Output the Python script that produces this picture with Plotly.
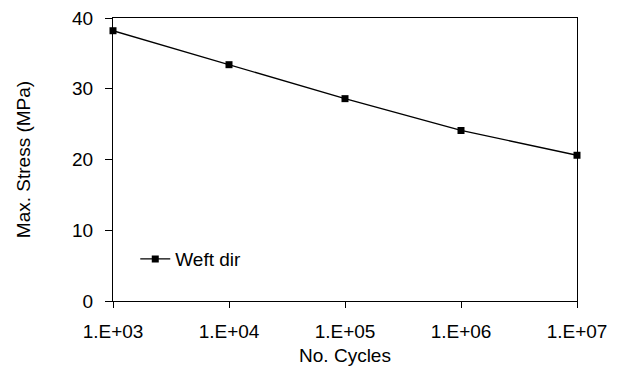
import plotly.graph_objects as go

cycles = [1e3, 1e4, 1e5, 1e6, 1e7]
stress = [38.2, 33.4, 28.6, 24.1, 20.6]
x_tickvals = [1e3, 1e4, 1e5, 1e6, 1e7]
x_ticktext = ["1.E+03", "1.E+04", "1.E+05", "1.E+06", "1.E+07"]
y_tickvals = [0, 10, 20, 30, 40]

fig = go.Figure()
fig.add_trace(go.Scatter(
    x=cycles, y=stress, mode="lines+markers", name="Weft dir",
    line=dict(color="black", width=1.3),
    marker=dict(symbol="square", size=7, color="black"),
    cliponaxis=False,
))

font = dict(family="Liberation Sans, Arial, sans-serif", size=19, color="black")
fig.update_layout(
    width=625, height=371,
    margin=dict(l=113, r=48, t=18, b=70),
    paper_bgcolor="white", plot_bgcolor="white",
    font=font,
    showlegend=True,
    legend=dict(x=0.048, y=0.148, xanchor="left", yanchor="middle",
                bgcolor="rgba(0,0,0,0)", font=font, itemwidth=30),
    xaxis=dict(type="log", range=[2.99999, 7.00001], tickvals=x_tickvals, ticktext=x_ticktext,
               showgrid=False, zeroline=False, showline=True, linecolor="black", linewidth=1.2,
               mirror=True, ticks="outside", ticklen=6, tickcolor="black", automargin=False,
               ticklabelstandoff=7,
               title=dict(text="No. Cycles", font=font, standoff=7)),
    yaxis=dict(range=[0, 40], tickvals=y_tickvals,
               showgrid=False, zeroline=False, showline=True, linecolor="black", linewidth=1.2,
               mirror=True, ticks="outside", ticklen=7, tickcolor="black", automargin=False,
               ticklabelstandoff=8,
               title=dict(text="Max. Stress (MPa)", font=font, standoff=36)),
)
fig.write_html("out.html", post_script="document.body.style.margin='0';",
               config={"displayModeBar": False})
